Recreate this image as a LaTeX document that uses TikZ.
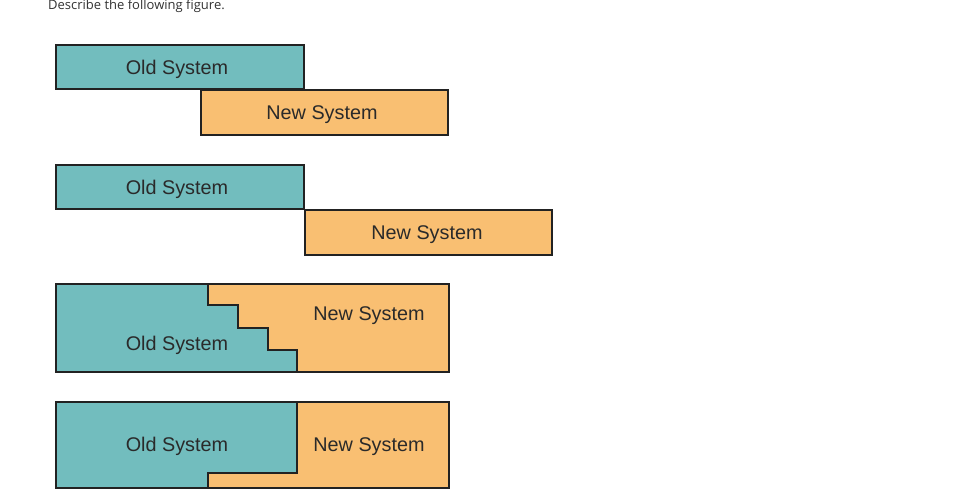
\documentclass[tikz,border=0pt]{standalone}
\usepackage{fontspec}
\setmainfont{Liberation Sans}
\newfontfamily\titlefont{Open Sans}
\definecolor{teal1}{HTML}{72BDBE}
\definecolor{orange1}{HTML}{F9BF72}
\definecolor{edge}{HTML}{222222}
\definecolor{txt}{HTML}{2A2A2A}
\begin{document}
\begin{tikzpicture}[x=1pt,y=-1pt,
  oldfill/.style={fill=teal1,draw=edge,line width=1.6pt,line join=miter},
  newfill/.style={fill=orange1,draw=edge,line width=1.6pt,line join=miter},
  lbl/.style={font=\fontsize{19.8}{22}\selectfont,text=txt,inner sep=0pt,anchor=base}]
\fill[white] (0,0) rectangle (966,490);
\useasboundingbox (0,0) rectangle (966,490);
\clip (0,0) rectangle (966,490);
\node[font=\titlefont\fontsize{13}{15}\selectfont,text=black!80,anchor=base west,inner sep=0pt] (title) at (48,9) {Describe the following figure.};
% Row 1
\draw[oldfill] (56,45) rectangle (304,89);
\draw[newfill] (201,90) rectangle (448,135);
\node[lbl] (o1) at (177,74.3) {Old System};
\node[lbl] (n1) at (322,119.3) {New System};
% Row 2
\draw[oldfill] (56,165) rectangle (304,209);
\draw[newfill] (305,210) rectangle (552,255);
\node[lbl] (o2) at (177,194.5) {Old System};
\node[lbl] (n2) at (427,239.5) {New System};
% Row 3
\draw[newfill] (208,284) -- (449,284) -- (449,372) -- (297,372) -- (297,350) -- (268,350) -- (268,328) -- (238,328) -- (238,305) -- (208,305) -- cycle;
\draw[oldfill] (56,284) -- (208,284) -- (208,305) -- (238,305) -- (238,328) -- (268,328) -- (268,350) -- (297,350) -- (297,372) -- (56,372) -- cycle;
\node[lbl] (n3) at (369,320.5) {New System};
\node[lbl] (o3) at (177,350) {Old System};
% Row 4
\draw[newfill] (297,402) -- (449,402) -- (449,488) -- (208,488) -- (208,473) -- (297,473) -- cycle;
\draw[oldfill] (56,402) -- (297,402) -- (297,473) -- (208,473) -- (208,488) -- (56,488) -- cycle;
\node[lbl] (o4) at (177,451.5) {Old System};
\node[lbl] (n4) at (369,451.5) {New System};
\end{tikzpicture}
\end{document}
